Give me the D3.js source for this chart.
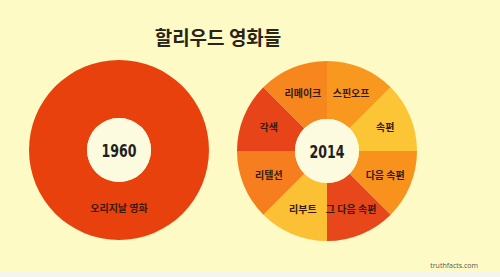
<!DOCTYPE html>
<html>
<head>
<meta charset="utf-8">
<script src="https://cdn.jsdelivr.net/npm/d3@7"></script>
<style>
  body { margin:0; background:#fefac6; }
  svg { display:block; }
</style>
</head>
<body>
<div id="chart"></div>
<script>
// data
var title = "할리우드 영화들";
var years = ["1960", "2014"];
var cats1960 = ["오리지날 영화"];
var vals1960 = [1];
var cats2014 = ["스핀오프", "속편", "다음 속편", "그 다음 속편", "리부트", "리텔션", "각색", "리메이크"];
var vals2014 = [1, 1, 1, 1, 1, 1, 1, 1];

var colors1960 = ["#e9410d"];
var colors2014 = ["#f8981e", "#fcc535", "#f8921d", "#e8461b", "#fbc034", "#f67e1f", "#e7441a", "#f7861f"];

var width = 500,
    height = 277,
    outerR = 90,
    innerR = 32,
    labelR = 63;

var svg = d3.select("#chart").append("svg")
    .attr("width", width)
    .attr("height", height);

// background + lighter strip at the bottom
svg.append("rect").attr("width", width).attr("height", height).attr("fill", "#fefac6");
svg.append("rect").attr("y", 272).attr("width", width).attr("height", 5).attr("fill", "#f5f5ec");

var korFont = "'Noto Sans CJK KR', sans-serif";

// title
svg.append("text")
    .attr("x", 218)
    .attr("y", 45)
    .attr("text-anchor", "middle")
    .attr("font-family", korFont)
    .attr("font-weight", 700)
    .attr("font-size", "19px")
    .attr("fill", "#2b2218")
    .text(title);

var pie = d3.pie().sort(null).value(function(d){ return d; });
var arc = d3.arc().innerRadius(innerR).outerRadius(outerR);
var labelArc = d3.arc().innerRadius(labelR).outerRadius(labelR);

function donut(cx, cy, cats, vals, cols, year, labelPos){
    var g = svg.append("g").attr("transform", "translate(" + cx + "," + cy + ")");
    var arcs = pie(vals);

    g.selectAll("path")
      .data(arcs)
      .enter()
        .append("path")
        .attr("d", arc)
        .attr("fill", function(d, i){ return cols[i]; });

    // the hole colour
    g.append("circle")
        .attr("r", innerR)
        .attr("fill", "#fdfbdf");

    g.selectAll(".lbl")
      .data(arcs)
      .enter()
        .append("text")
        .attr("class", "lbl")
        .attr("transform", function(d){
            var c = labelPos ? labelPos : labelArc.centroid(d);
            return "translate(" + c[0] + "," + (c[1] + 4) + ")";
        })
        .attr("text-anchor", "middle")
        .attr("font-family", korFont)
        .attr("font-weight", 700)
        .attr("font-size", "10px")
        .attr("fill", "#3a1a10")
        .text(function(d, i){ return cats[i]; });

    // year in the hole (squeezed to look condensed)
    g.append("text")
        .attr("transform", "translate(0,6.5) scale(0.7,1)")
        .attr("text-anchor", "middle")
        .attr("font-family", "'DejaVu Sans', sans-serif")
        .attr("font-weight", 700)
        .attr("font-size", "18px")
        .attr("fill", "#1f1f1f")
        .text(year);
}

donut(119, 150, cats1960, vals1960, colors1960, years[0], [0, 58]);
donut(327, 151, cats2014, vals2014, colors2014, years[1]);

// source
svg.append("text")
    .attr("x", 478)
    .attr("y", 268)
    .attr("text-anchor", "end")
    .attr("font-family", "'Open Sans', sans-serif")
    .attr("font-size", "7px")
    .attr("fill", "#555")
    .text("truthfacts.com");
</script>
</body>
</html>
